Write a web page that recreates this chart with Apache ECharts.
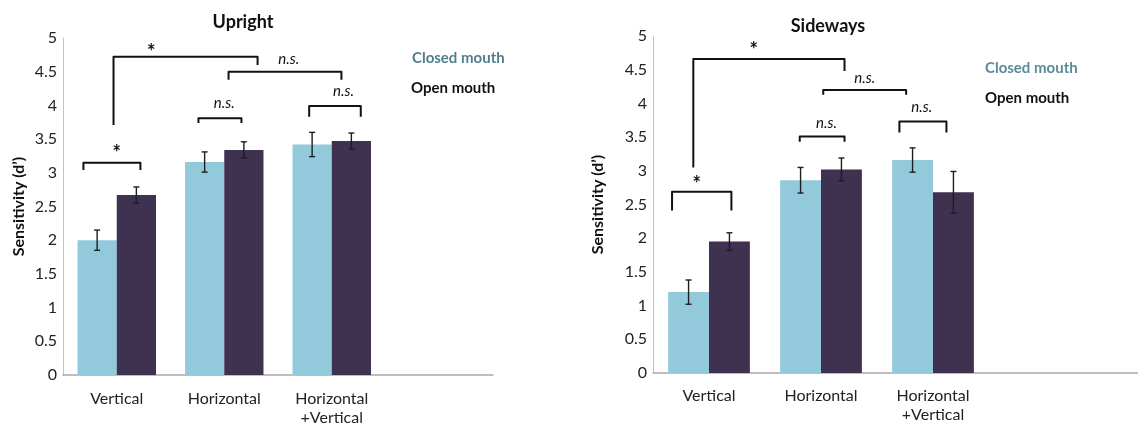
<!DOCTYPE html>
<html>
<head>
<meta charset="utf-8">
<script src="https://cdn.jsdelivr.net/npm/echarts@6/dist/echarts.min.js"></script>
<style>
  html, body { margin: 0; padding: 0; background: #fff; }
  #chart { width: 1138px; height: 423px; }
</style>
</head>
<body>
<div id="chart"></div>
<script>
// Categories (the trailing blanks leave empty space at the right of each panel)
const uprightCategories = ['Vertical', 'Horizontal', 'Horizontal\n+Vertical', ''];
const sidewaysCategories = ['Vertical', 'Horizontal', 'Horizontal\n+Vertical', '', ''];
const yTicks = [0, 0.5, 1, 1.5, 2, 2.5, 3, 3.5, 4, 4.5, 5];

// Sensitivity (d') means and error half-widths
const uprightClosed = [2.00, 3.16, 3.42];
const uprightClosedErr = [0.15, 0.15, 0.18];
const uprightOpen = [2.67, 3.34, 3.47];
const uprightOpenErr = [0.12, 0.12, 0.12];

const sidewaysClosed = [1.20, 2.86, 3.16];
const sidewaysClosedErr = [0.18, 0.19, 0.18];
const sidewaysOpen = [1.95, 3.02, 2.68];
const sidewaysOpenErr = [0.13, 0.17, 0.31];

// Significance brackets: [fromCat, fromShift, toCat, toShift, topY, leftFootY, rightFootY]
// (shifts are fractions of a category band)
const uprightBrackets = [
  [0, -0.31, 0, 0.22, 3.15, 3.04, 3.04],
  [1, -0.24, 1, 0.16, 3.81, 3.74, 3.74],
  [2, -0.21, 2, 0.27, 3.99, 3.83, 3.83],
  [0, -0.03, 1, 0.31, 4.72, 3.71, 4.60],
  [1, 0.04, 2, 0.09, 4.50, 4.38, 4.38]
];
const uprightMarks = [
  ['*', 0, 0.00, 3.29],
  ['n.s.', 1, 0.00, 4.04],
  ['n.s.', 2, 0.11, 4.21],
  ['*', 0, 0.32, 4.79],
  ['n.s.', 1, 0.60, 4.69]
];
const sidewaysBrackets = [
  [0, -0.33, 0, 0.20, 2.69, 2.41, 2.41],
  [1, -0.19, 1, 0.21, 3.51, 3.43, 3.43],
  [2, -0.30, 2, 0.12, 3.73, 3.57, 3.57],
  [0, -0.14, 1, 0.21, 4.66, 3.05, 4.48],
  [1, 0.02, 2, -0.24, 4.20, 4.13, 4.13]
];
const sidewaysMarks = [
  ['*', 0, -0.11, 2.79],
  ['n.s.', 1, 0.05, 3.71],
  ['n.s.', 2, -0.10, 3.94],
  ['*', 0, 0.40, 4.79],
  ['n.s.', 1, 0.39, 4.38]
];

const FONT = 'Lato, "Open Sans", sans-serif';
const CLOSED_COLOR = '#93cadb';
const OPEN_COLOR = '#3f3150';
const GAP = 0.27;              // barCategoryGap as a fraction
const HALF_SHIFT = (1 - GAP) / 4; // offset of each bar centre from the band centre

function errorSeries(axisIdx, values, errs, side) {
  return {
    type: 'custom',
    xAxisIndex: axisIdx, yAxisIndex: axisIdx,
    silent: true, z: 5,
    data: values.map((v, i) => [i, v, errs[i]]),
    renderItem: function (params, api) {
      const band = api.size([1, 0])[0];
      const c = api.coord([api.value(0), api.value(1)]);
      const x = c[0] + side * HALF_SHIFT * band;
      const top = api.coord([api.value(0), api.value(1) + api.value(2)])[1];
      const bot = api.coord([api.value(0), api.value(1) - api.value(2)])[1];
      const cap = 3;
      const st = { stroke: '#1e1e1e', lineWidth: 1.4 };
      return {
        type: 'group',
        children: [
          { type: 'line', shape: { x1: x, y1: top, x2: x, y2: bot }, style: st },
          { type: 'line', shape: { x1: x - cap, y1: top, x2: x + cap, y2: top }, style: st },
          { type: 'line', shape: { x1: x - cap, y1: bot, x2: x + cap, y2: bot }, style: st }
        ]
      };
    }
  };
}

function bracketSeries(axisIdx, brackets) {
  return {
    type: 'custom',
    xAxisIndex: axisIdx, yAxisIndex: axisIdx,
    silent: true, z: 6, clip: false,
    encode: { x: 0, y: 4 },
    data: brackets,
    renderItem: function (params, api) {
      const band = api.size([1, 0])[0];
      const x1 = api.coord([api.value(0), 0])[0] + api.value(1) * band;
      const x2 = api.coord([api.value(2), 0])[0] + api.value(3) * band;
      const yTop = api.coord([0, api.value(4)])[1];
      const yL = api.coord([0, api.value(5)])[1];
      const yR = api.coord([0, api.value(6)])[1];
      return {
        type: 'polyline',
        shape: { points: [[x1, yL], [x1, yTop], [x2, yTop], [x2, yR]] },
        style: { stroke: '#111', lineWidth: 2, fill: null, lineJoin: 'round' }
      };
    }
  };
}

function markSeries(axisIdx, marks) {
  return {
    type: 'custom',
    xAxisIndex: axisIdx, yAxisIndex: axisIdx,
    silent: true, z: 6, clip: false,
    encode: { x: 0, y: 2 },
    data: marks.map(m => [m[1], m[2], m[3]]),
    renderItem: function (params, api) {
      const band = api.size([1, 0])[0];
      const x = api.coord([api.value(0), 0])[0] + api.value(1) * band;
      const y = api.coord([0, api.value(2)])[1];
      const text = marks[params.dataIndex][0];
      const star = text === '*';
      return {
        type: 'text',
        x: x, y: y,
        style: {
          text: text,
          fill: '#111',
          font: star ? 'bold 20px ' + FONT : 'italic 15px ' + FONT,
          textAlign: 'center',
          textVerticalAlign: 'middle'
        }
      };
    }
  };
}

function xAxis(gridIdx, cats, margin) {
  return {
    type: 'category', gridIndex: gridIdx, data: cats,
    axisLine: { lineStyle: { color: '#a9a9a9', width: 1.5 } },
    axisTick: { show: false },
    axisLabel: { color: '#222', fontFamily: FONT, fontSize: 16, lineHeight: 19, margin: margin, interval: 0 }
  };
}

function yAxis(gridIdx, gap) {
  return {
    type: 'value', gridIndex: gridIdx, min: 0, max: 5, interval: 0.5,
    name: 'Sensitivity (d\u2019)', nameLocation: 'middle', nameGap: gap,
    nameTextStyle: { color: '#111', fontFamily: FONT, fontWeight: 'bold', fontSize: 16 },
    axisLine: { show: true, lineStyle: { color: '#c4c4c4', width: 1 } },
    axisTick: { show: false },
    splitLine: { show: false },
    axisLabel: {
      color: '#222', fontFamily: FONT, fontSize: 16, margin: 6,
      formatter: v => (yTicks.indexOf(v) >= 0 ? String(v) : '')
    }
  };
}

function barSeries(axisIdx, values, color) {
  return {
    type: 'bar', xAxisIndex: axisIdx, yAxisIndex: axisIdx,
    data: values, barGap: '0%', barCategoryGap: (GAP * 100) + '%',
    itemStyle: { color: color }, silent: true
  };
}

function label(text, x, y, opts) {
  return {
    type: 'text', x: x, y: y,
    style: Object.assign({ text: text, fill: '#111', font: 'bold 15px ' + FONT, textVerticalAlign: 'middle' }, opts || {})
  };
}

const chart = echarts.init(document.getElementById('chart'), null, { renderer: 'canvas' });
chart.setOption({
  animation: false,
  backgroundColor: '#fff',
  grid: [
    { left: 63, top: 38, width: 430, bottom: 48, outerBoundsMode: 'none', containLabel: false },
    { left: 653, top: 36, width: 560, bottom: 50, outerBoundsMode: 'none', containLabel: false }
  ],
  xAxis: [xAxis(0, uprightCategories, 14), xAxis(1, sidewaysCategories, 13)],
  yAxis: [yAxis(0, 36), yAxis(1, 47)],
  graphic: [
    label('Upright', 243, 22, { font: 'bold 18px ' + FONT, textAlign: 'center' }),
    label('Sideways', 828, 26, { font: 'bold 18px ' + FONT, textAlign: 'center' }),
    label('Closed mouth', 412, 58, { fill: '#4f7f8f' }),
    label('Open mouth', 411, 88),
    label('Closed mouth', 985, 68, { fill: '#5a8b9b' }),
    label('Open mouth', 985, 98)
  ],
  series: [
    barSeries(0, uprightClosed, CLOSED_COLOR),
    barSeries(0, uprightOpen, OPEN_COLOR),
    barSeries(1, sidewaysClosed, CLOSED_COLOR),
    barSeries(1, sidewaysOpen, OPEN_COLOR),
    errorSeries(0, uprightClosed, uprightClosedErr, -1),
    errorSeries(0, uprightOpen, uprightOpenErr, 1),
    errorSeries(1, sidewaysClosed, sidewaysClosedErr, -1),
    errorSeries(1, sidewaysOpen, sidewaysOpenErr, 1),
    bracketSeries(0, uprightBrackets),
    bracketSeries(1, sidewaysBrackets),
    markSeries(0, uprightMarks),
    markSeries(1, sidewaysMarks)
  ]
});
</script>
</body>
</html>
